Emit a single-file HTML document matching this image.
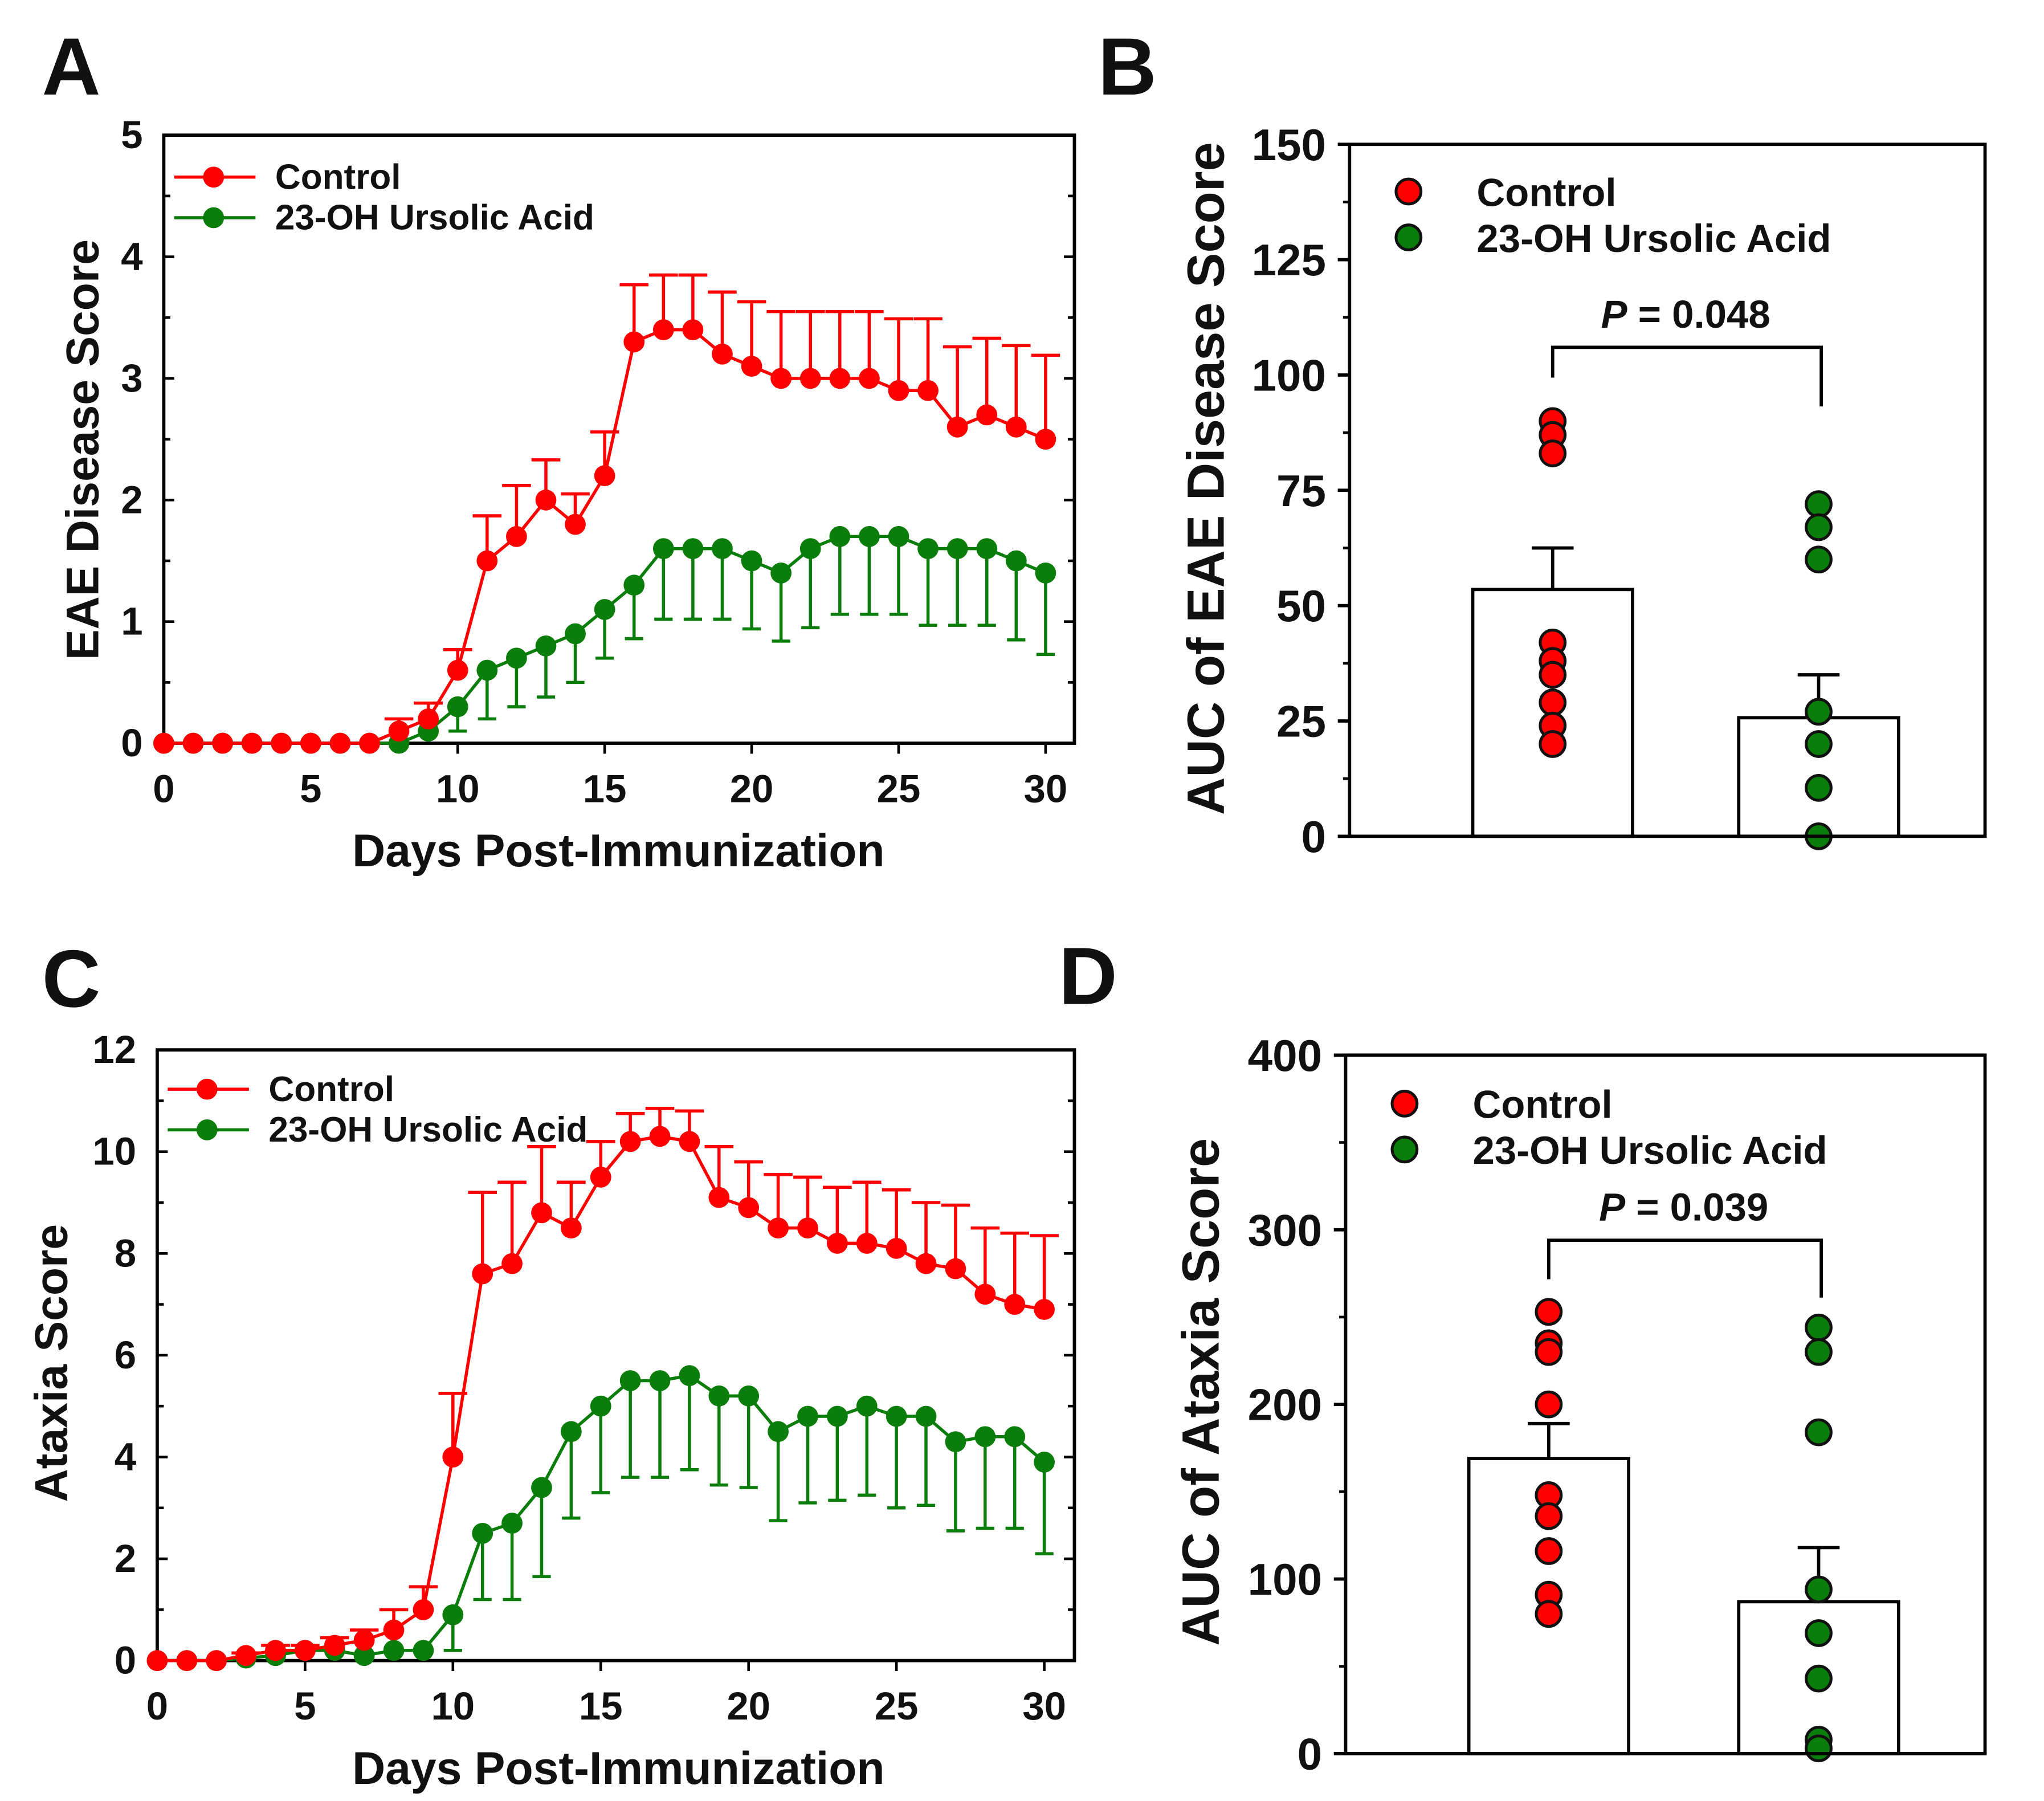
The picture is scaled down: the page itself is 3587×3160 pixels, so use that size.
<!DOCTYPE html>
<html><head><meta charset="utf-8">
<style>html,body{margin:0;padding:0;background:#fff}svg{display:block}text{font-family:"Liberation Sans",Arial,sans-serif;font-weight:bold;fill:#111}</style>
</head><body>
<svg id="fig" width="3587" height="3160" viewBox="0 0 1560 1374" xmlns="http://www.w3.org/2000/svg"></svg>
<script>
// ---- Panel A data ----
const daysA = Array.from({length:31},(_,i)=>i);
const ctrlA = [0,0,0,0,0,0,0,0,0.1,0.2,0.6,1.5,1.7,2.0,1.8,2.2,3.3,3.4,3.4,3.2,3.1,3.0,3.0,3.0,3.0,2.9,2.9,2.6,2.7,2.6,2.5];
const ctrlAerr = [null,null,null,null,null,null,null,null,0.2,0.33,0.77,1.87,2.12,2.33,2.05,2.56,3.77,3.85,3.85,3.71,3.63,3.55,3.55,3.55,3.55,3.49,3.49,3.26,3.33,3.27,3.19];
const trtA = [0,0,0,0,0,0,0,0,0,0.1,0.3,0.6,0.7,0.8,0.9,1.1,1.3,1.6,1.6,1.6,1.5,1.4,1.6,1.7,1.7,1.7,1.6,1.6,1.6,1.5,1.4];
const trtAerr = [null,null,null,null,null,null,null,null,null,null,0.1,0.2,0.3,0.38,0.5,0.7,0.86,1.02,1.02,1.02,0.94,0.84,0.95,1.06,1.06,1.06,0.97,0.97,0.97,0.85,0.73];
// ---- Panel C data ----
const ctrlC = [0,0,0,0.1,0.2,0.2,0.3,0.4,0.6,1.0,4.0,7.6,7.8,8.8,8.5,9.5,10.2,10.3,10.2,9.1,8.9,8.5,8.5,8.2,8.2,8.1,7.8,7.7,7.2,7.0,6.9];
const ctrlCerr = [null,null,null,0.15,0.3,0.3,0.45,0.6,1.0,1.45,5.25,9.2,9.4,10.1,9.4,10.2,10.75,10.85,10.8,10.1,9.8,9.55,9.5,9.3,9.4,9.25,9.0,8.95,8.5,8.4,8.35];
const trtC = [0,0,0,0.05,0.1,0.2,0.2,0.1,0.2,0.2,0.9,2.5,2.7,3.4,4.5,5.0,5.5,5.5,5.6,5.2,5.2,4.5,4.8,4.8,5.0,4.8,4.8,4.3,4.4,4.4,3.9];
const trtCerr = [null,null,null,null,null,null,null,null,null,null,0.2,1.2,1.2,1.65,2.8,3.3,3.6,3.6,3.75,3.45,3.4,2.75,3.1,3.15,3.25,3.0,3.05,2.55,2.6,2.6,2.1];
// ---- Panel B data ----
const barB = [53.5,25.7];
const barBerr = [62.5,35];
const dotsBctrl = [90,87,83,42,38,35,29,24,20];
const dotsBtrt = [72,67,60,27,20,10.5,0];
// ---- Panel D data ----
const barD = [169,87];
const barDerr = [189,118];
const dotsDctrl = [253,235,230,200,148,136,116,91,80];
const dotsDtrt = [244,230,184,94,69,43,8,3];
const xTicksA = [0,5,10,15,20,25,30];
const yTicksA = [0,1,2,3,4,5];
const yTicksC = [0,2,4,6,8,10,12];
const yTicksB = [0,25,50,75,100,125,150];
const yTicksD = [0,100,200,300,400];

const NS="http://www.w3.org/2000/svg";
const svg=document.getElementById('fig');
function el(tag,attrs,parent,name,inter){const e=document.createElementNS(NS,tag);for(const k in attrs)e.setAttribute(k,attrs[k]);


(parent||svg).appendChild(e);return e;}
function txt(x,y,s,size,name,anchor,parent,extra){const t=el('text',Object.assign({x:x,y:y,'font-size':size,'text-anchor':anchor||'middle'},extra||{}),parent,name,false);t.textContent=s;return t;}
const RED='#ff0000', GRN='#0a7d0a';

function lineChart(o){
  const g=el('g',{},svg,o.name,false);
  const sx=v=>o.x0+(v-0)*(o.x30-o.x0)/30;
  const sy=v=>o.yb-(v/o.ymax)*(o.yb-o.yt);
  el('rect',{x:o.l,y:o.yt,width:o.r-o.l,height:o.yb-o.yt,fill:'none',stroke:'#000','stroke-width':2.5},g,'plot-frame',false);
  o.yTicks.forEach(v=>{const y=sy(v);
    el('line',{x1:o.l,x2:o.l+8,y1:y,y2:y,stroke:'#000','stroke-width':2},g,'y-tick',false);
    el('line',{x1:o.r,x2:o.r-8,y1:y,y2:y,stroke:'#000','stroke-width':2},g,'y-tick-right',false);
    txt(o.l-16,y+10,String(v),30,'y-tick-label','end',g);});
  for(let i=0;i<o.yTicks.length-1;i++){const y=sy((o.yTicks[i]+o.yTicks[i+1])/2);
    el('line',{x1:o.l,x2:o.l+5,y1:y,y2:y,stroke:'#000','stroke-width':2},g,'y-minor-tick',false);
    el('line',{x1:o.r,x2:o.r-5,y1:y,y2:y,stroke:'#000','stroke-width':2},g,'y-minor-tick-right',false);}
  xTicksA.forEach(v=>{const x=sx(v);
    el('line',{x1:x,x2:x,y1:o.yb,y2:o.yb+8,stroke:'#000','stroke-width':2},g,'x-tick',false);
    txt(x,o.yb+45,String(v),30,'x-tick-label','middle',g);});
  txt(472,o.yb+94,'Days Post-Immunization',35,'x-axis-title','middle',g);
  const yc=o.ytc;
  txt(o.ytx,yc,o.ytitle,35,'y-axis-title','middle',g,{transform:`rotate(-90 ${o.ytx} ${yc})`});
  function series(vals,errs,col,nm,hw){
    const sg=el('g',{},g,nm,false);
    vals.forEach((v,i)=>{if(errs[i]==null)return;const x=sx(daysA[i]);
      el('line',{x1:x,x2:x,y1:sy(v),y2:sy(errs[i]),stroke:col,'stroke-width':2.4},sg,'error-bar',false);
      el('line',{x1:x-hw,x2:x+hw,y1:sy(errs[i]),y2:sy(errs[i]),stroke:col,'stroke-width':2.4},sg,'error-cap',false);});
    el('polyline',{points:vals.map((v,i)=>sx(daysA[i])+','+sy(v)).join(' '),fill:'none',stroke:col,'stroke-width':2.4},sg,nm+'-line',false);
    vals.forEach((v,i)=>el('circle',{cx:sx(daysA[i]),cy:sy(v),r:8,fill:col},sg,'data-point',false));
  }
  series(o.trt,o.trtErr,GRN,'treated-series',7);
  series(o.ctrl,o.ctrlErr,RED,'control-series',11);
  const lg=el('g',{},g,'legend',false);
  [[RED,'Control',o.ly1],[GRN,'23-OH Ursolic Acid',o.ly2]].forEach(([c,s,y])=>{
    el('line',{x1:o.l+8,x2:o.l+70,y1:y,y2:y,stroke:c,'stroke-width':2.4},lg,'legend-line',false);
    el('circle',{cx:o.l+38,cy:y,r:8,fill:c},lg,'legend-marker',false);
    txt(o.l+85,y+9,s,27,'legend-entry','start',lg);});
}
lineChart({name:'panel-a',l:125,r:820,yt:103,yb:567,x0:125,x30:798,ymax:5,yTicks:yTicksA,ytx:75,ytc:343,ytitle:'EAE Disease Score',
  ctrl:ctrlA,ctrlErr:ctrlAerr,trt:trtA,trtErr:trtAerr,ly1:135,ly2:166});
lineChart({name:'panel-c',l:120,r:820,yt:801,yb:1267,x0:120,x30:797,ymax:12,yTicks:yTicksC,ytx:51,ytc:1040,ytitle:'Ataxia Score',
  ctrl:ctrlC,ctrlErr:ctrlCerr,trt:trtC,trtErr:trtCerr,ly1:831,ly2:862});

function barChart(o){
  const g=el('g',{},svg,o.name,false);
  const sy=v=>o.yb-(v/o.ymax)*(o.yb-o.yt);
  o.yTicks.forEach(v=>{const y=sy(v);
    el('line',{x1:o.l,x2:o.l-9,y1:y,y2:y,stroke:'#000','stroke-width':2.5},g,'y-tick',false);
    txt(o.l-18,y+12,String(v),34,'y-tick-label','end',g);});
  for(let i=0;i<o.yTicks.length-1;i++){const y=sy((o.yTicks[i]+o.yTicks[i+1])/2);
    el('line',{x1:o.l,x2:o.l-5,y1:y,y2:y,stroke:'#000','stroke-width':2},g,'y-minor-tick',false);}
  const yc=o.ytc;
  txt(o.ytx,yc,o.ytitle,40,'y-axis-title','middle',g,{transform:`rotate(-90 ${o.ytx} ${yc})`});
  const cx=o.cx;
  o.bars.forEach((v,i)=>{
    el('line',{x1:cx[i],x2:cx[i],y1:sy(v),y2:sy(o.errs[i]),stroke:'#000','stroke-width':2.5},g,'error-bar',false);
    el('line',{x1:cx[i]-16,x2:cx[i]+16,y1:sy(o.errs[i]),y2:sy(o.errs[i]),stroke:'#000','stroke-width':2.5},g,'error-cap',false);
    el('rect',{x:cx[i]-61,y:sy(v),width:122,height:o.yb-sy(v),fill:'#fff',stroke:'#000','stroke-width':2.5},g,i?'bar-treated':'bar-control',false);});
  [[o.dc,RED,0],[o.dt,GRN,1]].forEach(([arr,c,i])=>arr.forEach(v=>
    el('circle',{cx:cx[i],cy:sy(v),r:9.5,fill:c,stroke:'#111','stroke-width':2.2},g,i?'dot-treated':'dot-control',false)));
  el('rect',{x:o.l,y:o.yt,width:o.r-o.l,height:o.yb-o.yt,fill:'none',stroke:'#000','stroke-width':2.5},g,'plot-frame',false);
  const by=sy(o.brk);
  el('polyline',{points:`${cx[0]},${o.bl} ${cx[0]},${by} ${cx[1]+2},${by} ${cx[1]+2},${o.br}`,fill:'none',stroke:'#000','stroke-width':2.5},g,'significance-bracket',false);
  const p=txt((cx[0]+cx[1])/2,by-15,'',30,'p-value','middle',g);
  const ti=document.createElementNS(NS,'tspan');ti.setAttribute('font-style','italic');ti.textContent='P';p.appendChild(ti);
  p.appendChild(document.createTextNode(' = '+o.p));
  const lg=el('g',{},g,'legend',false);
  [[RED,'Control',o.ly],[GRN,'23-OH Ursolic Acid',o.ly+35]].forEach(([c,s,y])=>{
    el('circle',{cx:o.l+45,cy:y,r:9.5,fill:c,stroke:'#111','stroke-width':2.2},lg,'legend-marker',false);
    txt(o.l+97,y+11,s,30,'legend-entry','start',lg);});
}
barChart({name:'panel-b',l:1030,r:1515,yt:110,yb:638,ymax:150,yTicks:yTicksB,ytx:934,ytc:365,ytitle:'AUC of EAE Disease Score',
  cx:[1185,1388],bars:barB,errs:barBerr,dc:dotsBctrl,dt:dotsBtrt,brk:106,bl:288,br:310,p:'0.048',ly:146});
barChart({name:'panel-d',l:1027,r:1515,yt:805,yb:1338,ymax:400,yTicks:yTicksD,ytx:930,ytc:1062,ytitle:'AUC of Ataxia Score',
  cx:[1182,1388],bars:barD,errs:barDerr,dc:dotsDctrl,dt:dotsDtrt,brk:294,bl:976,br:990,p:'0.039',ly:842});

[['A',32,72],['B',838,72],['C',32,768],['D',808,766]].forEach(([s,x,y])=>txt(x,y,s,62,'panel-label-'+s.toLowerCase(),'start'));
</script>
</body></html>
